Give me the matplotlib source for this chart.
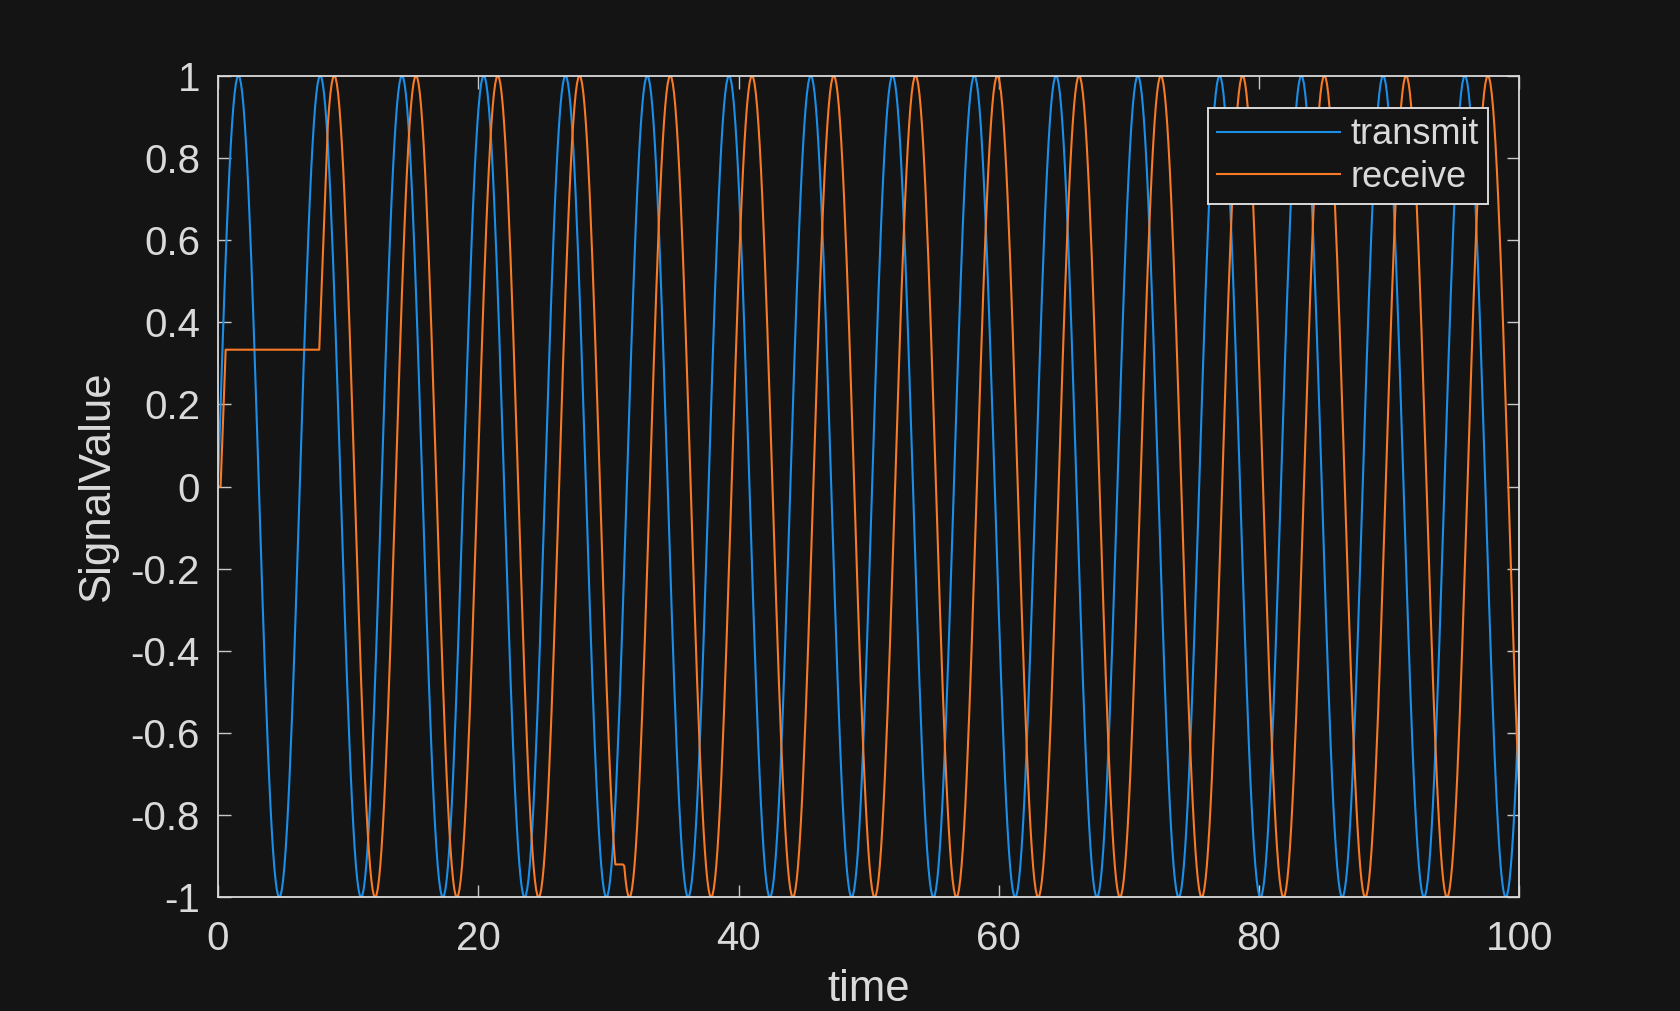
import numpy as np
import matplotlib
matplotlib.use("Agg")
import matplotlib.pyplot as plt

# ---------------- data ----------------
# one period of the transmit waveform, read at 64 equal steps (amplitude 1)
cycle_shape = [
    0.0000, 0.0980, 0.1951, 0.2903, 0.3827, 0.4714, 0.5556, 0.6344,
    0.7071, 0.7730, 0.8315, 0.8819, 0.9239, 0.9569, 0.9808, 0.9952,
    1.0000, 0.9952, 0.9808, 0.9569, 0.9239, 0.8819, 0.8315, 0.7730,
    0.7071, 0.6344, 0.5556, 0.4714, 0.3827, 0.2903, 0.1951, 0.0980,
    0.0000, -0.0980, -0.1951, -0.2903, -0.3827, -0.4714, -0.5556, -0.6344,
    -0.7071, -0.7730, -0.8315, -0.8819, -0.9239, -0.9569, -0.9808, -0.9952,
    -1.0000, -0.9952, -0.9808, -0.9569, -0.9239, -0.8819, -0.8315, -0.7730,
    -0.7071, -0.6344, -0.5556, -0.4714, -0.3827, -0.2903, -0.1951, -0.0980,
]
period = 6.2832          # spacing of transmit peaks (time units)
t_end = 100.0

# receive: start-up section (time, value)
rx_start_t = [0.0, 0.20, 0.59, 7.78]
rx_start_v = [0.0, 0.0, 0.333, 0.333]
rx_join_t = 8.44         # receive joins the delayed transmit waveform here
rx_lags = [1.08, 1.77]   # time lag of receive behind transmit, before/after switch
rx_hold_t = [30.51, 31.20]  # sample-and-hold interval at the lag switch
rx_hold_v = -0.92

x_ticks = [0, 20, 40, 60, 80, 100]
x_tick_labels = ["0", "20", "40", "60", "80", "100"]
y_ticks = [-1, -0.8, -0.6, -0.4, -0.2, 0, 0.2, 0.4, 0.6, 0.8, 1]
y_tick_labels = ["-1", "-0.8", "-0.6", "-0.4", "-0.2", "0", "0.2", "0.4", "0.6", "0.8", "1"]
series_names = ["transmit", "receive"]
x_label = "time"
y_label = "SignalValue"

# ---------------- build series ----------------
step = period / len(cycle_shape)
n = int(t_end / step) + 2
t = np.arange(n) * step
reps = n // len(cycle_shape) + 1
tx = np.tile(np.array(cycle_shape), reps)[:n]

k = np.arange(n)
lag1 = int(round(rx_lags[0] / step))
lag2 = int(round(rx_lags[1] / step))
lag = np.where(t < rx_hold_t[0], lag1, lag2)
rx_full = tx[np.clip(k - lag, 0, None)].copy()
hold = (t >= rx_hold_t[0]) & (t < rx_hold_t[1])
rx_full[hold] = rx_hold_v
k_join = int(round(rx_join_t / step))
rx_t = np.concatenate([rx_start_t, t[k_join:]])
rx_v = np.concatenate([rx_start_v, rx_full[k_join:]])

# ---------------- styling ----------------
bg = "#141414"
fg = "#dadada"
plt.rcParams["font.family"] = ["Liberation Sans", "DejaVu Sans"]
plt.rcParams["axes.unicode_minus"] = False

W, H = 1680, 1011
fig = plt.figure(figsize=(W / 100, H / 100), dpi=100, facecolor=bg)
ax_l, ax_r, ax_t, ax_b = 218, 1519.3, 75.7, 897.3
ax = fig.add_axes([ax_l / W, 1 - ax_b / H, (ax_r - ax_l) / W, (ax_b - ax_t) / H])
ax.set_facecolor(bg)

ax.plot(t, tx, color="#1b8fe8", lw=1.5, label=series_names[0])
ax.plot(rx_t, rx_v, color="#f77a26", lw=1.5, label=series_names[1])

ax.set_xlim(0, 100)
ax.set_ylim(-1, 1)
ax.set_xticks(x_ticks)
ax.set_xticklabels(x_tick_labels)
ax.set_yticks(y_ticks)
ax.set_yticklabels(y_tick_labels)

for s in ax.spines.values():
    s.set_color(fg)
    s.set_linewidth(1.3)
ax.tick_params(axis="both", which="both", direction="in", length=9, width=1.0,
               color="#c8c8c8", labelcolor=fg, labelsize=29,
               top=True, right=True)
ax.tick_params(axis="x", pad=16.5)
ax.tick_params(axis="y", pad=13)

ax.set_xlabel(x_label, fontsize=31.5, color=fg, labelpad=8)
ax.set_ylabel(y_label, fontsize=31.5, color=fg, labelpad=9)

leg = ax.legend(loc="upper right", bbox_to_anchor=(1488.3 / W, 1 - 108.3 / H),
                bbox_transform=fig.transFigure, borderaxespad=0,
                fontsize=26, frameon=True, fancybox=False, framealpha=1,
                handlelength=3.42, handletextpad=0.3, borderpad=0.25,
                labelspacing=0.2)
leg.get_frame().set_facecolor(bg)
leg.get_frame().set_edgecolor(fg)
leg.get_frame().set_linewidth(1.4)
for txt in leg.get_texts():
    txt.set_color(fg)

fig.savefig("out.png", dpi=100, facecolor=bg)
